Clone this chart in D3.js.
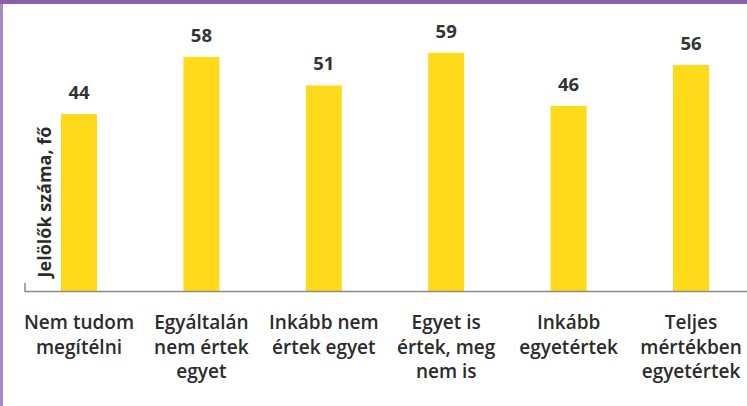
<!DOCTYPE html>
<html>
<head>
<meta charset="utf-8">
<script src="https://cdn.jsdelivr.net/npm/d3@7"></script>
<style>
  html, body { margin: 0; padding: 0; background: #fff; }
  svg { display: block; }
  text { font-family: "Open Sans", "Noto Sans", sans-serif; }
</style>
</head>
<body>
<svg id="chart" width="747" height="406"></svg>
<script>
const categories = [
  "Nem tudom\nmegítélni",
  "Egyáltalán\nnem értek\negyet",
  "Inkább nem\nértek egyet",
  "Egyet is\nértek, meg\nnem is",
  "Inkább\negyetértek",
  "Teljes\nmértékben\negyetértek"
];
const values = [44, 58, 51, 59, 46, 56];
const yTitle = "Jelölők száma, fő";

const svg = d3.select("#chart");
const W = 747, H = 406;
const axisY = 291.5;

const x = d3.scaleBand()
  .domain(categories)
  .range([17.8, 752.2])
  .paddingInner(0.706)
  .paddingOuter(0.353);

const y = d3.scaleLinear()
  .domain([0, 60])
  .range([293.7, 293.7 - 60 * 4.083]);

// frame
svg.append("rect").attr("x", 0).attr("y", 0).attr("width", W).attr("height", H).attr("fill", "#fff");
svg.append("rect").attr("x", 0).attr("y", 0).attr("width", 3).attr("height", H).attr("fill", "#a78bc6");
svg.append("rect").attr("x", 0).attr("y", 0).attr("width", W).attr("height", 4).attr("fill", "#8b60a8");

// bars
svg.append("g").selectAll("rect")
  .data(values)
  .join("rect")
  .attr("x", (d, i) => x(categories[i]))
  .attr("y", d => y(d))
  .attr("width", x.bandwidth())
  .attr("height", d => axisY - y(d))
  .attr("fill", "#ffda1a");

// value labels
svg.append("g").selectAll("text")
  .data(values)
  .join("text")
  .attr("x", (d, i) => x(categories[i]) + x.bandwidth() / 2)
  .attr("y", d => y(d) - 15)
  .attr("text-anchor", "middle")
  .attr("font-size", 18.5)
  .attr("font-weight", 700)
  .attr("fill", "#333")
  .text(d => d);

// axis line
const axis = d3.axisBottom(x).tickSize(0).tickFormat("");
const ax = svg.append("g").attr("transform", `translate(0,${axisY})`).call(axis);
ax.select(".domain").remove();
svg.append("path")
  .attr("d", `M25,283V${axisY}H747`)
  .attr("fill", "none")
  .attr("stroke", "#8a8a8a")
  .attr("stroke-width", 1.5);

// category labels
const lab = svg.append("g").selectAll("text")
  .data(categories)
  .join("text")
  .attr("x", d => x(d) + x.bandwidth() / 2)
  .attr("y", 329)
  .attr("text-anchor", "middle")
  .attr("font-size", 19)
  .attr("font-weight", 600)
  .attr("fill", "#2b2b2b");
lab.each(function(d) {
  const t = d3.select(this);
  d.split("\n").forEach((line, k) => {
    t.append("tspan")
      .attr("x", x(d) + x.bandwidth() / 2)
      .attr("dy", k === 0 ? 0 : 24.5)
      .text(line);
  });
});

// y title
svg.append("text")
  .attr("transform", "translate(51,202) rotate(-90)")
  .attr("text-anchor", "middle")
  .attr("font-size", 18)
  .attr("font-weight", 700)
  .attr("fill", "#2b2b2b")
  .text(yTitle);
</script>
</body>
</html>
